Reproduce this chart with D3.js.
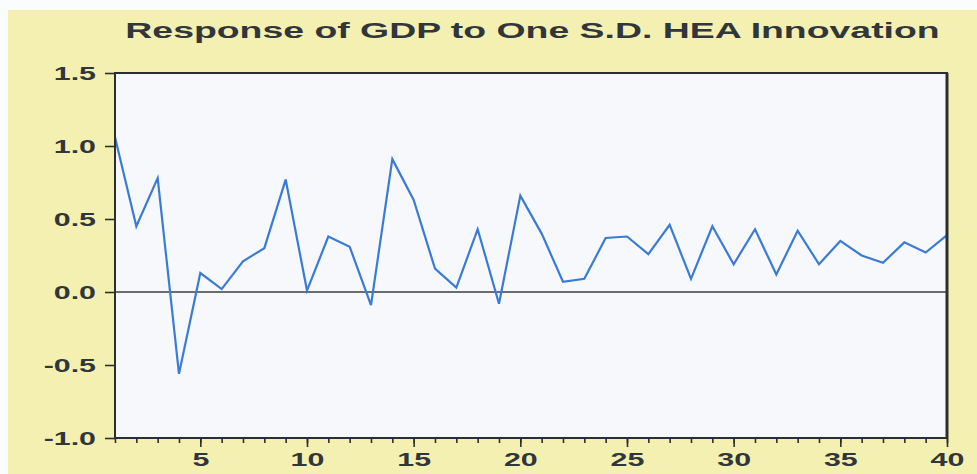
<!DOCTYPE html>
<html>
<head>
<meta charset="utf-8">
<script src="https://cdn.jsdelivr.net/npm/d3@7"></script>
<style>
  html, body { margin: 0; padding: 0; background: #ffffff; }
  svg { display: block; }
  text { font-family: "Liberation Sans", Arial, sans-serif; font-weight: bold; fill: #30363a; }
</style>
</head>
<body>
<div id="chart"></div>
<script>
// Impulse response horizon (periods)
const periods = d3.range(1, 41);
// Response of GDP to a one-standard-deviation HEA shock
const response = [
  1.06, 0.45, 0.78, -0.56, 0.13, 0.02, 0.21, 0.30, 0.77, 0.01,
  0.38, 0.31, -0.09, 0.91, 0.63, 0.16, 0.03, 0.43, -0.08, 0.66,
  0.40, 0.07, 0.09, 0.37, 0.38, 0.26, 0.46, 0.09, 0.45, 0.19,
  0.43, 0.12, 0.42, 0.19, 0.35, 0.25, 0.20, 0.34, 0.27, 0.39
];
const yTicks = [-1.0, -0.5, 0.0, 0.5, 1.0, 1.5];
const xMajorTicks = [5, 10, 15, 20, 25, 30, 35, 40];
const title = "Response of GDP to One S.D. HEA Innovation";

const W = 977, H = 474;
const plot = { left: 115, right: 947, top: 73, bottom: 438 };
const textStretch = 1.6;

const svg = d3.select("#chart").append("svg")
  .attr("width", W).attr("height", H);

// page and panel backgrounds
svg.append("rect").attr("x", 0).attr("y", 0).attr("width", W).attr("height", H).attr("fill", "#fbfcfd");
svg.append("rect").attr("x", 8).attr("y", 10).attr("width", W - 8).attr("height", H - 10).attr("fill", "#f4f0b2");
svg.append("rect")
  .attr("x", plot.left).attr("y", plot.top)
  .attr("width", plot.right - plot.left).attr("height", plot.bottom - plot.top)
  .attr("fill", "#f6f8fc");

const x = d3.scaleLinear().domain([1, 40]).range([plot.left, plot.right]);
const y = d3.scaleLinear().domain([-1, 1.5]).range([plot.bottom, plot.top]);

// zero reference line
svg.append("line")
  .attr("x1", plot.left).attr("x2", plot.right)
  .attr("y1", y(0)).attr("y2", y(0))
  .attr("stroke", "#3a3f3f").attr("stroke-width", 1.4);

// response line
const line = d3.line().x((d, i) => x(periods[i])).y(d => y(d));
svg.append("path")
  .datum(response)
  .attr("d", line)
  .attr("fill", "none")
  .attr("stroke", "#3a7bd6")
  .attr("stroke-width", 2.2)
  .attr("stroke-linejoin", "miter");

// frame
svg.append("rect")
  .attr("x", plot.left).attr("y", plot.top)
  .attr("width", plot.right - plot.left).attr("height", plot.bottom - plot.top)
  .attr("fill", "none").attr("stroke", "#2b2f30").attr("stroke-width", 2);
svg.append("line")
  .attr("x1", plot.right).attr("x2", plot.right)
  .attr("y1", plot.top).attr("y2", plot.bottom)
  .attr("stroke", "#2b2f30").attr("stroke-width", 3);

// y axis
const yAxis = svg.append("g")
  .attr("transform", `translate(${plot.left},0)`)
  .call(d3.axisLeft(y).tickValues(yTicks).tickSize(10).tickPadding(9)
    .tickFormat(d => d.toFixed(1)));
yAxis.select(".domain").remove();
yAxis.selectAll(".tick line").attr("stroke", "#2b2f30").attr("stroke-width", 1.6);
yAxis.selectAll(".tick text")
  .attr("font-size", 19)
  .each(function () {
    const t = d3.select(this);
    const tx = +t.attr("x");
    t.attr("x", 0).attr("transform", `translate(${tx},0) scale(${textStretch},1)`);
  });

// x axis: minor ticks each period
const xMinor = svg.append("g")
  .attr("transform", `translate(0,${plot.bottom})`)
  .call(d3.axisBottom(x).tickValues(periods).tickSize(5).tickFormat(""));
xMinor.select(".domain").remove();
xMinor.selectAll(".tick line").attr("stroke", "#2b2f30").attr("stroke-width", 1.6);

// x axis: labelled major ticks
const xMajor = svg.append("g")
  .attr("transform", `translate(0,${plot.bottom})`)
  .call(d3.axisBottom(x).tickValues(xMajorTicks).tickSize(9).tickPadding(6)
    .tickFormat(d3.format("d")));
xMajor.select(".domain").remove();
xMajor.selectAll(".tick line").attr("stroke", "#2b2f30").attr("stroke-width", 1.6);
xMajor.selectAll(".tick text")
  .attr("font-size", 19)
  .attr("transform", `scale(${textStretch},1)`);

// title
svg.append("text")
  .attr("transform", `translate(${(127 + 938) / 2},38) scale(1.7,1)`)
  .attr("text-anchor", "middle")
  .attr("font-size", 22)
  .text(title);
</script>
</body>
</html>
